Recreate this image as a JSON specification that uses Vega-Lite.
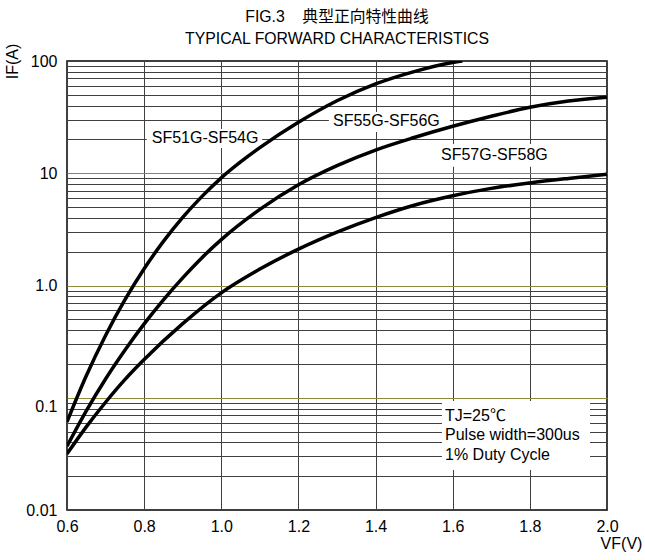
{
  "$schema": "https://vega.github.io/schema/vega-lite/v6.json",
  "width": 540,
  "height": 449,
  "autosize": {"type": "none"},
  "padding": {"left": 67, "top": 61, "right": 38, "bottom": 50},
  "background": "white",
  "config": {
    "font": "Liberation Sans, Noto Sans CJK SC, sans-serif",
    "view": {"stroke": "black", "strokeWidth": 1.5},
    "axis": {"domain": false, "ticks": false, "labelColor": "black", "labelFontSize": 16, "titleColor": "black", "titleFontSize": 16, "titleFontWeight": "normal", "gridWidth": 1, "gridOpacity": 1}
  },
  "title": {
    "text": ["FIG.3\u00a0\u00a0\u00a0\u00a0典型正向特性曲线", "TYPICAL FORWARD CHARACTERISTICS"],
    "fontSize": 15.8,
    "lineHeight": 22,
    "fontWeight": "normal",
    "color": "black",
    "anchor": "middle",
    "offset": -5
  },
  "datasets": {
    "curves": [
      {"series": "SF51G-SF54G", "vf": 0.6, "cur": 0.061},
      {"series": "SF51G-SF54G", "vf": 0.65, "cur": 0.157},
      {"series": "SF51G-SF54G", "vf": 0.7, "cur": 0.359},
      {"series": "SF51G-SF54G", "vf": 0.75, "cur": 0.743},
      {"series": "SF51G-SF54G", "vf": 0.8, "cur": 1.41},
      {"series": "SF51G-SF54G", "vf": 0.85, "cur": 2.47},
      {"series": "SF51G-SF54G", "vf": 0.9, "cur": 4.04},
      {"series": "SF51G-SF54G", "vf": 0.95, "cur": 6.22},
      {"series": "SF51G-SF54G", "vf": 1.0, "cur": 9.1},
      {"series": "SF51G-SF54G", "vf": 1.05, "cur": 12.6},
      {"series": "SF51G-SF54G", "vf": 1.1, "cur": 16.9},
      {"series": "SF51G-SF54G", "vf": 1.2, "cur": 28.4},
      {"series": "SF51G-SF54G", "vf": 1.3, "cur": 44.2},
      {"series": "SF51G-SF54G", "vf": 1.4, "cur": 62.5},
      {"series": "SF51G-SF54G", "vf": 1.5, "cur": 80.5},
      {"series": "SF51G-SF54G", "vf": 1.6, "cur": 97},
      {"series": "SF51G-SF54G", "vf": 1.625, "cur": 100},
      {"series": "SF55G-SF56G", "vf": 0.6, "cur": 0.037},
      {"series": "SF55G-SF56G", "vf": 0.65, "cur": 0.0764},
      {"series": "SF55G-SF56G", "vf": 0.7, "cur": 0.147},
      {"series": "SF55G-SF56G", "vf": 0.75, "cur": 0.265},
      {"series": "SF55G-SF56G", "vf": 0.8, "cur": 0.455},
      {"series": "SF55G-SF56G", "vf": 0.85, "cur": 0.746},
      {"series": "SF55G-SF56G", "vf": 0.9, "cur": 1.17},
      {"series": "SF55G-SF56G", "vf": 0.95, "cur": 1.77},
      {"series": "SF55G-SF56G", "vf": 1.0, "cur": 2.56},
      {"series": "SF55G-SF56G", "vf": 1.1, "cur": 4.76},
      {"series": "SF55G-SF56G", "vf": 1.2, "cur": 7.9},
      {"series": "SF55G-SF56G", "vf": 1.3, "cur": 11.7},
      {"series": "SF55G-SF56G", "vf": 1.4, "cur": 16.1},
      {"series": "SF55G-SF56G", "vf": 1.5, "cur": 20.8},
      {"series": "SF55G-SF56G", "vf": 1.6, "cur": 26.2},
      {"series": "SF55G-SF56G", "vf": 1.7, "cur": 32.2},
      {"series": "SF55G-SF56G", "vf": 1.8, "cur": 38.7},
      {"series": "SF55G-SF56G", "vf": 1.9, "cur": 44},
      {"series": "SF55G-SF56G", "vf": 2.0, "cur": 47.6},
      {"series": "SF57G-SF58G", "vf": 0.6, "cur": 0.0316},
      {"series": "SF57G-SF58G", "vf": 0.65, "cur": 0.055},
      {"series": "SF57G-SF58G", "vf": 0.7, "cur": 0.0912},
      {"series": "SF57G-SF58G", "vf": 0.75, "cur": 0.145},
      {"series": "SF57G-SF58G", "vf": 0.8, "cur": 0.219},
      {"series": "SF57G-SF58G", "vf": 0.9, "cur": 0.457},
      {"series": "SF57G-SF58G", "vf": 1.0, "cur": 0.86},
      {"series": "SF57G-SF58G", "vf": 1.1, "cur": 1.4},
      {"series": "SF57G-SF58G", "vf": 1.2, "cur": 2.11},
      {"series": "SF57G-SF58G", "vf": 1.3, "cur": 2.99},
      {"series": "SF57G-SF58G", "vf": 1.4, "cur": 4.03},
      {"series": "SF57G-SF58G", "vf": 1.5, "cur": 5.19},
      {"series": "SF57G-SF58G", "vf": 1.6, "cur": 6.3},
      {"series": "SF57G-SF58G", "vf": 1.7, "cur": 7.33},
      {"series": "SF57G-SF58G", "vf": 1.8, "cur": 8.2},
      {"series": "SF57G-SF58G", "vf": 1.9, "cur": 9.0},
      {"series": "SF57G-SF58G", "vf": 2.0, "cur": 9.8}
    ],
    "labels": [
      {"label": "SF51G-SF54G", "vf": 0.958, "cur": 20.6, "vf_lo": 0.807, "vf_hi": 1.106, "cur_lo": 16.8, "cur_hi": 24.8},
      {"label": "SF55G-SF56G", "vf": 1.428, "cur": 29.4, "vf_lo": 1.279, "vf_hi": 1.593, "cur_lo": 23.3, "cur_hi": 35.1},
      {"label": "SF57G-SF58G", "vf": 1.708, "cur": 14.5, "vf_lo": 1.559, "vf_hi": 1.857, "cur_lo": 11.4, "cur_hi": 18.2}
    ],
    "notebox": [
      {"vf_lo": 1.572, "vf_hi": 1.956, "cur_lo": 0.0227, "cur_hi": 0.0936}
    ],
    "note": [
      {"line": "TJ=25℃", "vf": 1.58, "cur": 0.0692},
      {"line": "Pulse width=300us", "vf": 1.58, "cur": 0.0466},
      {"line": "1% Duty Cycle", "vf": 1.58, "cur": 0.0309}
    ]
  },
  "layer": [
    {
      "data": {"name": "labels"},
      "mark": {"type": "rect", "fill": "white"},
      "encoding": {
        "x": {
          "field": "vf_lo", "type": "quantitative",
          "scale": {"domain": [0.6, 2.0], "nice": false, "zero": false},
          "axis": {
            "values": [0.6, 0.8, 1.0, 1.2, 1.4, 1.6, 1.8, 2.0],
            "format": ".1f",
            "grid": true,
            "gridColor": "#404040",
            "labelPadding": 8,
            "labelFlush": false,
            "labelOverlap": false,
            "title": "VF(V)",
            "titleX": 554,
            "titleY": 33,
            "titleAlign": "center",
            "titleBaseline": "middle"
          }
        },
        "x2": {"field": "vf_hi"},
        "y": {
          "field": "cur_lo", "type": "quantitative",
          "scale": {"type": "log", "domain": [0.01, 100], "nice": false},
          "axis": {
            "values": [0.01, 0.02, 0.03, 0.04, 0.05, 0.06, 0.07, 0.08, 0.09, 0.1, 0.2, 0.3, 0.4, 0.5, 0.6, 0.7, 0.8, 0.9, 1, 2, 3, 4, 5, 6, 7, 8, 9, 10, 20, 30, 40, 50, 60, 70, 80, 90, 100],
            "labelExpr": "datum.value === 100 ? '100' : datum.value === 10 ? '10' : datum.value === 1 ? '1.0' : datum.value === 0.1 ? '0.1' : datum.value === 0.01 ? '0.01' : ''",
            "labelOverlap": false,
            "labelFlush": false,
            "labelPadding": 10,
            "labelOffset": {"condition": {"test": "datum.value === 0.1", "value": 9}, "value": 0},
            "grid": true,
            "gridColor": {"condition": {"test": "datum.value === 0.1 || datum.value === 1 || datum.value === 10", "value": "#8c8c3a"}, "value": "#404040"},
            "title": "IF(A)",
            "titleAngle": -90,
            "titleX": -55,
            "titleY": 0,
            "titleAlign": "center",
            "titleBaseline": "middle"
          }
        },
        "y2": {"field": "cur_hi"}
      }
    },
    {
      "data": {"name": "notebox"},
      "mark": {"type": "rect", "fill": "white"},
      "encoding": {
        "x": {"field": "vf_lo", "type": "quantitative"},
        "x2": {"field": "vf_hi"},
        "y": {"field": "cur_lo", "type": "quantitative"},
        "y2": {"field": "cur_hi"}
      }
    },
    {
      "data": {"name": "curves"},
      "mark": {"type": "line", "color": "black", "strokeWidth": 3.5, "interpolate": "monotone", "clip": true},
      "encoding": {
        "x": {"field": "vf", "type": "quantitative"},
        "y": {"field": "cur", "type": "quantitative"},
        "detail": {"field": "series"}
      }
    },
    {
      "data": {"name": "labels"},
      "mark": {"type": "text", "fontSize": 16, "color": "black", "align": "center", "baseline": "middle"},
      "encoding": {
        "x": {"field": "vf", "type": "quantitative"},
        "y": {"field": "cur", "type": "quantitative"},
        "text": {"field": "label"}
      }
    },
    {
      "data": {"name": "note"},
      "mark": {"type": "text", "fontSize": 16, "color": "black", "align": "left", "baseline": "middle"},
      "encoding": {
        "x": {"field": "vf", "type": "quantitative"},
        "y": {"field": "cur", "type": "quantitative"},
        "text": {"field": "line"}
      }
    }
  ]
}
